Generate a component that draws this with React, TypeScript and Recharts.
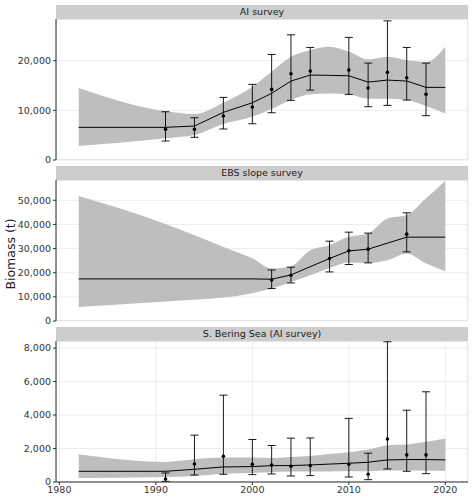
import React from 'react';
import { ComposedChart, Area, Line, Scatter, ErrorBar, XAxis, YAxis, CartesianGrid } from 'recharts';

// model estimate years (the ribbon and line)
const modelYears = [1982, 1991, 1994, 1997, 2000, 2002, 2004, 2006, 2008, 2010, 2012, 2014, 2016, 2018, 2020];

const aiEst = [6580, 6580, 6840, 9600, 11530, 13420, 15900, 17100, 17050, 16960, 15690, 16100, 15900, 14630, 14630];
const aiLower = [2820, 4370, 5030, 7240, 8710, 10260, 12070, 13220, 13400, 13220, 12340, 12340, 12070, 10870, 9390];
const aiUpper = [14490, 9800, 9260, 11530, 14750, 17770, 20790, 22130, 22800, 21800, 20260, 20790, 20120, 19720, 22800];

const ebsEst = [17430, 17430, 17430, 17430, 17430, 17300, 19090, 22500, 25890, 29050, 29750, 32240, 34730, 34730, 34730];
const ebsLower = [5810, 8100, 8800, 9700, 11500, 13440, 16180, 18960, 21990, 24230, 24070, 25190, 27970, 23820, 20620];
const ebsUpper = [51740, 40200, 35500, 30700, 26000, 21740, 22700, 29340, 31400, 34850, 36270, 42490, 43860, 50790, 58090];

const sbsEst = [640, 640, 760, 900, 920, 980, 980, 1020, 1070, 1120, 1180, 1320, 1340, 1340, 1320];
const sbsLower = [240, 300, 360, 500, 540, 580, 620, 620, 630, 640, 640, 680, 680, 670, 660];
const sbsUpper = [1660, 1200, 1360, 1460, 1460, 1440, 1500, 1560, 1670, 1780, 1940, 2200, 2240, 2400, 2600];

// survey observations with error bars
const aiYears = [1991, 1994, 1997, 2000, 2002, 2004, 2006, 2010, 2012, 2014, 2016, 2018];
const aiObs = [6170, 6170, 8850, 10660, 14220, 17370, 17910, 18110, 14490, 17650, 16560, 13220];
const aiObsLo = [3820, 4570, 6240, 7300, 9520, 12010, 14080, 13210, 10730, 11000, 12070, 8920];
const aiObsHi = [9720, 8510, 12610, 15230, 21260, 25210, 22670, 24690, 19520, 28030, 22670, 19520];

const ebsYears = [2002, 2004, 2008, 2010, 2012, 2016];
const ebsObs = [17010, 18960, 25890, 29050, 29750, 35980];
const ebsObsLo = [13440, 15770, 20330, 23400, 24070, 28630];
const ebsObsHi = [21160, 22280, 33070, 36800, 36390, 44810];

const sbsObs = [180, 1080, 1540, 1060, 1020, 940, 980, 1060, 460, 2570, 1620, 1620];
const sbsObsLo = [40, 420, 460, 440, 480, 360, 380, 300, 140, 780, 640, 500];
const sbsObsHi = [540, 2800, 5190, 2540, 2180, 2620, 2630, 3800, 1720, 8380, 4290, 5390];

const xTicks = [1980, 1990, 2000, 2010, 2020];

const FONT = '"DejaVu Sans", sans-serif';
const PLOT_LEFT = 56;
const PLOT_W = 412;
const STRIP_H = 14;
const PLOT_H = 141;

const buildModel = (lower: number[], est: number[], upper: number[]) =>
  modelYears.map((year, i) => ({ year, band: [lower[i], upper[i]], est: est[i] }));

const buildSurvey = (years: number[], obs: number[], lo: number[], hi: number[]) =>
  years.map((year, i) => ({ year, obs: obs[i], err: [obs[i] - lo[i], hi[i] - obs[i]] }));

const fmt = (v: number) => v.toLocaleString('en-US');

const Dot = (p: any) => <circle cx={p.cx} cy={p.cy} r={1.8} fill="#000" />;

interface PanelProps {
  title: string;
  top: number;
  model: any[];
  survey: any[];
  yMax: number;
  yTicks: number[];
  bottom?: boolean;
}

const Panel = ({ title, top, model, survey, yMax, yTicks, bottom }: PanelProps) => {
  const plotTop = top + STRIP_H;
  const xh = bottom ? 19 : 0;
  // small spare room under upper panels so the "0" label is not cut
  const pad = bottom ? 0 : 6;
  return (
    <>
      <div
        style={{
          position: 'absolute', left: PLOT_LEFT, top: plotTop, width: PLOT_W, height: PLOT_H,
          border: '1px solid #e3e3e3', boxSizing: 'border-box',
        }}
      />
      <div style={{ position: 'absolute', left: 0, top: plotTop }}>
        <ComposedChart width={474} height={PLOT_H + xh + pad} data={model} margin={{ top: 0, right: 6, bottom: pad, left: 0 }}>
          <CartesianGrid stroke="#ebebeb" strokeWidth={1} />
          <XAxis
            dataKey="year"
            type="number"
            domain={[1979.65, 2022.35]}
            ticks={xTicks}
            interval={0}
            allowDataOverflow
            height={xh}
            tick={bottom ? { fontSize: 9.5, fill: '#333', fontFamily: FONT } : false}
            axisLine={bottom ? { stroke: '#333' } : false}
            tickLine={bottom ? { stroke: '#333' } : false}
            tickSize={3}
            tickMargin={1}
          />
          <YAxis
            type="number"
            domain={[0, yMax]}
            ticks={yTicks}
            interval={0}
            allowDataOverflow
            width={PLOT_LEFT}
            tickFormatter={fmt}
            tick={{ fontSize: 9.5, fill: '#333', fontFamily: FONT }}
            axisLine={{ stroke: '#333' }}
            tickLine={{ stroke: '#333' }}
            tickSize={3}
            tickMargin={2}
          />
          <Area dataKey="band" type="monotone" fill="#bebebe" fillOpacity={1} stroke="none" isAnimationActive={false} />
          <Line dataKey="est" type="linear" stroke="#000" strokeWidth={1} dot={false} isAnimationActive={false} />
          <Scatter data={survey} dataKey="obs" shape={Dot} isAnimationActive={false}>
            <ErrorBar dataKey="err" direction="y" width={4} stroke="#000" strokeWidth={0.9} />
          </Scatter>
        </ComposedChart>
      </div>
      <div
        style={{
          position: 'absolute', left: PLOT_LEFT, top, width: PLOT_W, height: STRIP_H,
          background: '#cdcdcd', fontFamily: FONT, fontSize: 9.5, color: '#1a1a1a',
          textAlign: 'center', lineHeight: `${STRIP_H}px`,
        }}
      >
        {title}
      </div>
    </>
  );
};

export default function App() {
  return (
    <div style={{ position: 'absolute', left: 0, top: 0, width: 474, height: 501, background: '#fff' }}>
      <Panel
        title="AI survey"
        top={5}
        model={buildModel(aiLower, aiEst, aiUpper)}
        survey={buildSurvey(aiYears, aiObs, aiObsLo, aiObsHi)}
        yMax={28400}
        yTicks={[0, 10000, 20000]}
      />
      <Panel
        title="EBS slope survey"
        top={166}
        model={buildModel(ebsLower, ebsEst, ebsUpper)}
        survey={buildSurvey(ebsYears, ebsObs, ebsObsLo, ebsObsHi)}
        yMax={58400}
        yTicks={[0, 10000, 20000, 30000, 40000, 50000]}
      />
      <Panel
        title="S. Bering Sea (AI survey)"
        top={327}
        model={buildModel(sbsLower, sbsEst, sbsUpper)}
        survey={buildSurvey(aiYears, sbsObs, sbsObsLo, sbsObsHi)}
        yMax={8425}
        yTicks={[0, 2000, 4000, 6000, 8000]}
        bottom
      />
      <div
        style={{
          position: 'absolute', left: 10, top: 254, transform: 'translate(-50%, -50%) rotate(-90deg)',
          fontFamily: FONT, fontSize: 12.5, color: '#1a1a1a', whiteSpace: 'nowrap',
        }}
      >
        Biomass (t)
      </div>
    </div>
  );
}
